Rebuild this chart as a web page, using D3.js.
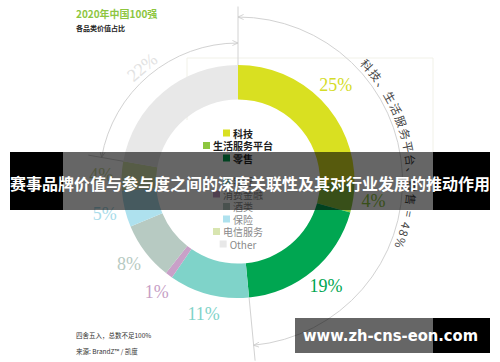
<!DOCTYPE html>
<html lang="zh">
<head>
<meta charset="utf-8">
<script src="https://cdn.jsdelivr.net/npm/d3@7"></script>
<style>
body { margin:0; background:#fff; }
svg { display:block; }
text { font-family:"Noto Sans CJK SC", "Noto Sans", sans-serif; }
.pct { font-family:"Liberation Serif", "DejaVu Serif", serif; }
.guide { fill:none; stroke:#d2d2d2; stroke-width:1; }
</style>
</head>
<body>
<svg id="chart"></svg>
<script>
// clockwise from 12 o'clock, same order as the legend
var categories = ["科技", "生活服务平台", "零售", "银行", "消费金融", "酒类", "保险", "电信服务", "Other"];
var shares     = [25, 4, 19, 11, 1, 8, 5, 4, 22];
var colours    = ["#d9e021", "#8dc63f", "#00a651", "#7fd3c9", "#c9a0c8", "#b7cac2", "#aee1ee", "#d8e5b0", "#e8e8e8"];
var labelCols  = ["#d4dc28", "#8dc63f", "#00a651", "#7fd3c9", "#c79fc6", "#b7cac2", "#a9dcea", "#c9d89c", "#e2e2e2"];
var boldItems  = 3;   // first three legend rows are bold
var topGroup   = ["科技", "生活服务平台", "零售"];
var sumText    = "科技、生活服务平台、零售 = 48%";

var w = 500, h = 362, cx = 238, cy = 181.5, rIn = 82, rOut = 116.5;
var svg = d3.select("#chart").attr("width", w).attr("height", h);
var deg = Math.PI / 180;

var defs = svg.append("defs");
defs.append("marker").attr("id", "arr")
	.attr("viewBox", "0 0 8 8").attr("refX", 7.5).attr("refY", 4)
	.attr("markerWidth", 6).attr("markerHeight", 6)
	.attr("markerUnits", "userSpaceOnUse")
	.attr("orient", "auto-start-reverse")
	.append("path").attr("d", "M0,0.6 L7.5,4 L0,7.4")
	.attr("fill", "none").attr("stroke", "#c8c8c8").attr("stroke-width", 1);

// faint frame of the pasted picture
var frame = svg.append("g").attr("stroke", "#f1f1e8").attr("fill", "none");
frame.append("line").attr("x1", 187).attr("y1", 58).attr("x2", 433).attr("y2", 58);
frame.append("line").attr("x1", 187).attr("y1", 58).attr("x2", 187).attr("y2", 120);
frame.append("line").attr("x1", 433).attr("y1", 58).attr("x2", 433).attr("y2", 152);

// titles
svg.append("text").attr("x", 76).attr("y", 17.5).attr("font-size", 10).attr("font-weight", 700)
	.attr("fill", "#8dc63f").text("2020年中国100强");
svg.append("text").attr("x", 76).attr("y", 30.5).attr("font-size", 7).attr("font-weight", 700)
	.attr("fill", "#222").text("各品类价值占比");

var pie = d3.pie().sort(null).value(function(d){ return d; });
var arcs = pie(shares);
var arc = d3.arc().innerRadius(rIn).outerRadius(rOut);
var g = svg.append("g").attr("transform", "translate(" + cx + "," + cy + ")");

g.selectAll("path.slice").data(arcs).enter().append("path")
	.attr("class", "slice")
	.attr("d", arc)
	.attr("fill", function(d, i){ return colours[i]; });

function pt(r, a) { return [r * Math.sin(a), -r * Math.cos(a)]; }
function arcPath(r, a0, a1) {
	var p = d3.path(), s = pt(r, a0);
	p.moveTo(s[0], s[1]);
	p.arc(0, 0, r, a0 - Math.PI / 2, a1 - Math.PI / 2, a1 < a0);
	return p.toString();
}
function tick(a, r0, r1) {
	var a0 = pt(r0, a), a1 = pt(r1, a);
	g.append("line").attr("class", "guide")
		.attr("x1", a0[0]).attr("y1", a0[1]).attr("x2", a1[0]).attr("y2", a1[1]);
}

var other = arcs[arcs.length - 1];
var groupEnd = arcs[topGroup.length - 1].endAngle;

// guide ticks and bracket arcs
tick(0, rOut, 175);
tick(other.startAngle, rOut, 152);
tick(groupEnd, rOut, 180);
g.append("path").attr("class", "guide").attr("d", arcPath(138.5, other.startAngle, 2 * Math.PI))
	.attr("marker-start", "url(#arr)").attr("marker-end", "url(#arr)");
g.append("path").attr("class", "guide").attr("d", arcPath(164.5, 0, groupEnd))
	.attr("marker-start", "url(#arr)").attr("marker-end", "url(#arr)");

// curved sum text
defs.append("path").attr("id", "sumPath")
	.attr("d", arcPath(169, 46 * deg, 130 * deg))
	.attr("transform", "translate(" + cx + "," + cy + ")");
svg.append("text").attr("font-size", 11.5).attr("fill", "#444")
	.append("textPath").attr("href", "#sumPath")
	.attr("textLength", 196).attr("lengthAdjust", "spacing")
	.text(sumText);

// percentage labels
var lab = d3.arc().innerRadius(137).outerRadius(137);
g.selectAll("text.pct").data(arcs).enter().append("text")
	.attr("class", "pct")
	.attr("font-size", 18)
	.attr("text-anchor", "middle")
	.attr("dominant-baseline", "central")
	.attr("fill", function(d, i){ return labelCols[i]; })
	.attr("transform", function(d, i){
		if (i === arcs.length - 1) {
			var m = (d.startAngle + d.endAngle) / 2, c = pt(149, m);
			return "translate(" + c + ") rotate(" + (m / deg - 360) + ")";
		}
		return "translate(" + lab.centroid(d) + ")";
	})
	.text(function(d){ return d.data + "%"; });

// legend in the hole
var rows = categories.map(function(c, i){
	return { name:c, i:i, y: i < boldItems ? 133 + i * 12.5 : 181.5 + (i - boldItems) * 12.5 };
});
var leg = svg.append("g");
var item = leg.selectAll("g").data(rows).enter().append("g");
item.append("text")
	.attr("font-size", 10)
	.attr("font-weight", function(d){ return d.i < boldItems ? 700 : 400; })
	.attr("fill", function(d){ return d.i < boldItems ? "#1e1e1e" : "#8a8a8a"; })
	.attr("dominant-baseline", "central")
	.attr("y", function(d){ return d.y; })
	.text(function(d){ return d.name; });
item.each(function(d){
	var it = d3.select(this), tw = it.select("text").node().getComputedTextLength();
	var left = 238 - (7 + 3 + tw) / 2;
	it.select("text").attr("x", left + 10);
	it.insert("rect", "text").attr("x", left).attr("y", d.y - 3.5)
		.attr("width", 7).attr("height", 7).attr("fill", colours[d.i]);
});

// footnotes
svg.append("text").attr("x", 76).attr("y", 337.5).attr("font-size", 6.5).attr("fill", "#333")
	.text("四舍五入，总数不足100%");
svg.append("text").attr("x", 76).attr("y", 354).attr("font-size", 6.5).attr("fill", "#333")
	.text("来源: BrandZ™ / 凯度");

// title banner overlay
svg.append("rect").attr("x", 10).attr("y", 152).attr("width", 53).attr("height", 58).attr("fill", "#000");
svg.append("rect").attr("x", 63).attr("y", 152).attr("width", 370).attr("height", 58).attr("fill", "rgba(0,0,0,0.6)");
svg.append("rect").attr("x", 433).attr("y", 152).attr("width", 57).attr("height", 58).attr("fill", "#000");
svg.append("text").attr("x", 250).attr("y", 183).attr("text-anchor", "middle")
	.attr("dominant-baseline", "central")
	.attr("font-size", 16).attr("font-weight", 700).attr("fill", "#fff")
	.attr("textLength", 480).attr("lengthAdjust", "spacingAndGlyphs")
	.text("赛事品牌价值与参与度之间的深度关联性及其对行业发展的推动作用");

// url badge
svg.append("rect").attr("x", 295).attr("y", 318).attr("width", 138).attr("height", 35).attr("fill", "rgba(0,0,0,0.6)");
svg.append("rect").attr("x", 433).attr("y", 318).attr("width", 57).attr("height", 35).attr("fill", "#000");
svg.append("text").attr("x", 390.5).attr("y", 336).attr("text-anchor", "middle")
	.attr("dominant-baseline", "central")
	.style("font-family", "'DejaVu Sans', sans-serif")
	.attr("font-size", 15.5).attr("font-weight", 700).attr("fill", "#fff")
	.attr("textLength", 175).attr("lengthAdjust", "spacingAndGlyphs")
	.text("www.zh-cns-eon.com");
</script>
</body>
</html>
